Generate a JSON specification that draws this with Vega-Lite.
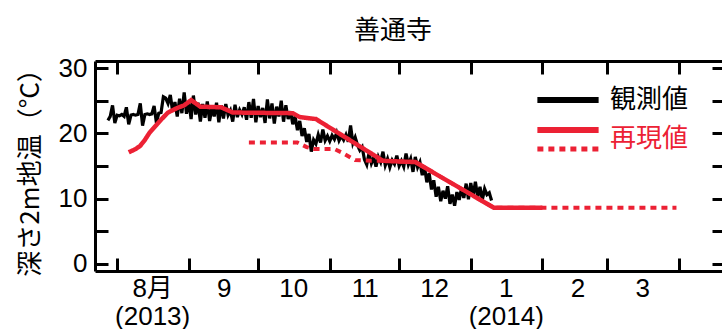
{
  "$schema": "https://vega.github.io/schema/vega-lite/v6.json",
  "autosize": {"type": "none"},
  "padding": {"left": 95, "top": 61, "right": 0, "bottom": 58},
  "width": 630,
  "height": 210,
  "background": "white",
  "title": {"text": "善通寺", "font": "Noto Sans CJK JP", "fontSize": 26, "fontWeight": "normal", "color": "black", "dx": -17, "offset": 11},
  "config": {
    "view": {"stroke": null},
    "axis": {"grid": false, "domainColor": "black", "domainWidth": 3, "tickColor": "black", "tickWidth": 3, "tickSize": -13, "labelFont": "Liberation Sans", "labelFontSize": 26, "labelColor": "black", "labelOverlap": false, "labelFlush": false, "labelBound": false}
  },
  "datasets": {
    "obs": [
      {"d":"2013-07-28","t":22.0},{"d":"2013-07-29","t":22.6},{"d":"2013-07-30","t":24.3},{"d":"2013-07-31","t":21.6},
      {"d":"2013-08-01","t":22.8},{"d":"2013-08-02","t":22.7},{"d":"2013-08-03","t":22.9},{"d":"2013-08-04","t":22.6},{"d":"2013-08-05","t":24.0},{"d":"2013-08-06","t":21.4},{"d":"2013-08-07","t":22.8},{"d":"2013-08-08","t":22.9},{"d":"2013-08-09","t":22.8},{"d":"2013-08-10","t":22.9},{"d":"2013-08-11","t":24.6},{"d":"2013-08-12","t":21.2},{"d":"2013-08-13","t":22.9},{"d":"2013-08-14","t":23.0},{"d":"2013-08-15","t":22.9},{"d":"2013-08-16","t":23.0},{"d":"2013-08-17","t":24.2},{"d":"2013-08-18","t":21.6},{"d":"2013-08-19","t":23.1},{"d":"2013-08-20","t":23.2},{"d":"2013-08-21","t":25.6},{"d":"2013-08-22","t":25.4},{"d":"2013-08-23","t":24.6},{"d":"2013-08-24","t":25.9},{"d":"2013-08-25","t":23.4},{"d":"2013-08-26","t":24.8},{"d":"2013-08-27","t":22.6},{"d":"2013-08-28","t":25.3},{"d":"2013-08-29","t":23.1},{"d":"2013-08-30","t":26.3},{"d":"2013-08-31","t":23.0},
      {"d":"2013-09-01","t":24.9},{"d":"2013-09-02","t":22.2},{"d":"2013-09-03","t":25.8},{"d":"2013-09-04","t":22.9},{"d":"2013-09-05","t":24.7},{"d":"2013-09-06","t":21.8},{"d":"2013-09-07","t":24.5},{"d":"2013-09-08","t":22.4},{"d":"2013-09-09","t":24.9},{"d":"2013-09-10","t":21.9},{"d":"2013-09-11","t":23.9},{"d":"2013-09-12","t":22.6},{"d":"2013-09-13","t":24.7},{"d":"2013-09-14","t":21.7},{"d":"2013-09-15","t":24.3},{"d":"2013-09-16","t":22.3},{"d":"2013-09-17","t":24.5},{"d":"2013-09-18","t":22.8},{"d":"2013-09-19","t":23.5},{"d":"2013-09-20","t":21.8},{"d":"2013-09-21","t":24.4},{"d":"2013-09-22","t":22.5},{"d":"2013-09-23","t":23.6},{"d":"2013-09-24","t":22.9},{"d":"2013-09-25","t":24.0},{"d":"2013-09-26","t":22.1},{"d":"2013-09-27","t":24.8},{"d":"2013-09-28","t":22.4},{"d":"2013-09-29","t":25.3},{"d":"2013-09-30","t":21.7},
      {"d":"2013-10-01","t":24.2},{"d":"2013-10-02","t":22.5},{"d":"2013-10-03","t":23.9},{"d":"2013-10-04","t":21.6},{"d":"2013-10-05","t":25.2},{"d":"2013-10-06","t":22.3},{"d":"2013-10-07","t":24.6},{"d":"2013-10-08","t":21.5},{"d":"2013-10-09","t":24.1},{"d":"2013-10-10","t":22.6},{"d":"2013-10-11","t":25.0},{"d":"2013-10-12","t":21.8},{"d":"2013-10-13","t":24.3},{"d":"2013-10-14","t":22.2},{"d":"2013-10-15","t":23.4},{"d":"2013-10-16","t":21.4},{"d":"2013-10-17","t":22.6},{"d":"2013-10-18","t":20.5},{"d":"2013-10-19","t":21.9},{"d":"2013-10-20","t":19.6},{"d":"2013-10-21","t":20.8},{"d":"2013-10-22","t":18.7},{"d":"2013-10-23","t":19.9},{"d":"2013-10-24","t":17.2},{"d":"2013-10-25","t":19.0},{"d":"2013-10-26","t":18.4},{"d":"2013-10-27","t":19.8},{"d":"2013-10-28","t":18.6},{"d":"2013-10-29","t":20.6},{"d":"2013-10-30","t":18.9},{"d":"2013-10-31","t":19.6},
      {"d":"2013-11-01","t":18.8},{"d":"2013-11-02","t":19.7},{"d":"2013-11-03","t":19.1},{"d":"2013-11-04","t":20.1},{"d":"2013-11-05","t":18.9},{"d":"2013-11-06","t":19.6},{"d":"2013-11-07","t":19.0},{"d":"2013-11-08","t":19.8},{"d":"2013-11-09","t":18.7},{"d":"2013-11-10","t":21.2},{"d":"2013-11-11","t":18.5},{"d":"2013-11-12","t":19.4},{"d":"2013-11-13","t":18.2},{"d":"2013-11-14","t":17.4},{"d":"2013-11-15","t":17.9},{"d":"2013-11-16","t":16.0},{"d":"2013-11-17","t":15.2},{"d":"2013-11-18","t":17.0},{"d":"2013-11-19","t":15.4},{"d":"2013-11-20","t":16.3},{"d":"2013-11-21","t":14.9},{"d":"2013-11-22","t":16.4},{"d":"2013-11-23","t":15.6},{"d":"2013-11-24","t":17.2},{"d":"2013-11-25","t":15.1},{"d":"2013-11-26","t":16.1},{"d":"2013-11-27","t":14.8},{"d":"2013-11-28","t":15.9},{"d":"2013-11-29","t":15.3},{"d":"2013-11-30","t":16.6},
      {"d":"2013-12-01","t":15.0},{"d":"2013-12-02","t":15.8},{"d":"2013-12-03","t":14.9},{"d":"2013-12-04","t":16.9},{"d":"2013-12-05","t":15.2},{"d":"2013-12-06","t":16.1},{"d":"2013-12-07","t":14.1},{"d":"2013-12-08","t":16.4},{"d":"2013-12-09","t":14.8},{"d":"2013-12-10","t":15.6},{"d":"2013-12-11","t":13.6},{"d":"2013-12-12","t":14.8},{"d":"2013-12-13","t":12.5},{"d":"2013-12-14","t":13.9},{"d":"2013-12-15","t":11.4},{"d":"2013-12-16","t":12.8},{"d":"2013-12-17","t":10.3},{"d":"2013-12-18","t":11.8},{"d":"2013-12-19","t":9.6},{"d":"2013-12-20","t":11.2},{"d":"2013-12-21","t":10.0},{"d":"2013-12-22","t":11.9},{"d":"2013-12-23","t":9.2},{"d":"2013-12-24","t":10.6},{"d":"2013-12-25","t":8.9},{"d":"2013-12-26","t":11.0},{"d":"2013-12-27","t":9.8},{"d":"2013-12-28","t":11.6},{"d":"2013-12-29","t":10.1},{"d":"2013-12-30","t":12.3},{"d":"2013-12-31","t":9.9},
      {"d":"2014-01-01","t":12.4},{"d":"2014-01-02","t":10.4},{"d":"2014-01-03","t":12.6},{"d":"2014-01-04","t":10.2},{"d":"2014-01-05","t":11.8},{"d":"2014-01-06","t":9.8},{"d":"2014-01-07","t":11.5},{"d":"2014-01-08","t":10.6},{"d":"2014-01-09","t":10.9},{"d":"2014-01-10","t":9.7}
    ],
    "sim": [
      {"d":"2013-08-06","t":17.1},{"d":"2013-08-09","t":17.6},{"d":"2013-08-11","t":18.1},{"d":"2013-08-13","t":19.0},{"d":"2013-08-15","t":20.1},{"d":"2013-08-18","t":21.3},{"d":"2013-08-20","t":22.1},{"d":"2013-08-23","t":23.2},{"d":"2013-08-27","t":23.9},{"d":"2013-08-30","t":24.3},{"d":"2013-09-02","t":25.1},{"d":"2013-09-06","t":24.1},{"d":"2013-09-15","t":24.0},{"d":"2013-09-20","t":23.2},{"d":"2013-10-16","t":23.1},{"d":"2013-10-19","t":22.5},{"d":"2013-10-26","t":22.2},{"d":"2013-11-24","t":15.8},{"d":"2013-12-08","t":15.6},{"d":"2014-01-11","t":8.6},{"d":"2014-02-01","t":8.6}
    ],
    "sim2": [
      {"d":"2013-09-27","t":18.6},{"d":"2013-10-18","t":18.6},{"d":"2013-10-22","t":17.9},{"d":"2013-10-25","t":17.6},{"d":"2013-11-03","t":17.6},{"d":"2013-11-06","t":17.1},{"d":"2013-11-12","t":15.9},{"d":"2013-11-19","t":15.8},{"d":"2013-11-24","t":15.8},{"d":"2013-12-08","t":15.6},{"d":"2014-01-11","t":8.6},{"d":"2014-03-31","t":8.6}
    ]
  },
  "resolve": {"axis": {"x": "independent", "y": "independent"}},
  "layer": [
    {
      "data": {"name": "obs"},
      "transform": [{"calculate": "'観測値'", "as": "s"}, {"calculate": "'solid'", "as": "k"}],
      "mark": {"type": "line", "strokeWidth": 3.2},
      "encoding": {
        "x": {"field": "d", "type": "temporal", "scale": {"type": "utc", "domain": [{"year": 2013, "month": 7, "date": 22, "hours": 10, "utc": true}, {"year": 2014, "month": 4, "date": 21, "utc": true}]},
          "axis": {"orient": "bottom", "title": null, "values": [{"year":2013,"month":8,"date":1,"utc":true},{"year":2013,"month":9,"date":1,"utc":true},{"year":2013,"month":10,"date":1,"utc":true},{"year":2013,"month":11,"date":1,"utc":true},{"year":2013,"month":12,"date":1,"utc":true},{"year":2014,"month":1,"date":1,"utc":true},{"year":2014,"month":2,"date":1,"utc":true},{"year":2014,"month":3,"date":1,"utc":true},{"year":2014,"month":4,"date":1,"utc":true}],
            "labelExpr": "utcmonth(datum.value) == 7 ? ['8月', '(2013)'] : utcmonth(datum.value) == 0 ? ['1', '(2014)'] : utcmonth(datum.value) == 3 ? '' : '' + (utcmonth(datum.value) + 1)",
            "labelOffset": 35, "labelPadding": 17, "labelLineHeight": 28, "labelFont": "Liberation Sans, Noto Sans CJK JP"}},
        "y": {"field": "t", "type": "quantitative", "scale": {"domain": [-1.1, 31.1], "nice": false, "zero": false},
          "axis": {"orient": "left", "values": [0, 5, 10, 15, 20, 25, 30], "labelExpr": "datum.value % 10 == 0 ? datum.label : ''", "labelPadding": 21,
            "title": "深さ2m地温（°C）", "titleFont": "Noto Sans CJK JP", "titleFontSize": 26, "titleFontWeight": "normal", "titleColor": "black", "titlePadding": 15}},
        "color": {"field": "s", "type": "nominal", "scale": {"domain": ["観測値", "再現値"], "range": ["black", "#ec2134"]},
          "legend": {"orient": "none", "legendX": 460, "legendY": 26, "title": null, "symbolType": "M-5,0H5", "symbolSize": 150, "symbolStrokeWidth": 6, "labelFont": "Noto Sans CJK JP", "labelFontSize": 26, "labelOffset": 29, "rowPadding": 4,
            "encode": {"labels": {"update": {"fill": {"signal": "datum.value == '観測値' ? 'black' : '#ec2134'"}, "dy": {"signal": "datum.value == '再現値' ? 9 : 0"}}}}}},
        "strokeDash": {"field": "k", "type": "nominal", "scale": {"domain": ["solid", "dotted"], "range": [[1, 0], [6, 5]]},
          "legend": {"orient": "none", "legendX": 460, "legendY": 75, "title": null, "values": ["dotted"], "labelExpr": "''", "symbolType": "M-5,0H5", "symbolSize": 150, "symbolStrokeWidth": 5, "symbolStrokeColor": "#ec2134", "labelFontSize": 26}}
      }
    },
    {
      "data": {"name": "sim2"},
      "transform": [{"calculate": "'再現値'", "as": "s"}, {"calculate": "'dotted'", "as": "k"}],
      "mark": {"type": "line", "strokeWidth": 4},
      "encoding": {
        "x": {"field": "d", "type": "temporal", "axis": {"orient": "top", "title": null, "labels": false, "values": [{"year":2013,"month":8,"date":1,"utc":true},{"year":2013,"month":9,"date":1,"utc":true},{"year":2013,"month":10,"date":1,"utc":true},{"year":2013,"month":11,"date":1,"utc":true},{"year":2013,"month":12,"date":1,"utc":true},{"year":2014,"month":1,"date":1,"utc":true},{"year":2014,"month":2,"date":1,"utc":true},{"year":2014,"month":3,"date":1,"utc":true},{"year":2014,"month":4,"date":1,"utc":true}]}},
        "y": {"field": "t", "type": "quantitative", "axis": {"orient": "right", "title": null, "labels": false, "values": [0, 5, 10, 15, 20, 25, 30]}},
        "color": {"field": "s", "type": "nominal"},
        "strokeDash": {"field": "k", "type": "nominal"}
      }
    },
    {
      "data": {"name": "sim"},
      "transform": [{"calculate": "'再現値'", "as": "s"}, {"calculate": "'solid'", "as": "k"}],
      "mark": {"type": "line", "strokeWidth": 4.5},
      "encoding": {
        "x": {"field": "d", "type": "temporal", "axis": null},
        "y": {"field": "t", "type": "quantitative", "axis": null},
        "color": {"field": "s", "type": "nominal"},
        "strokeDash": {"field": "k", "type": "nominal"}
      }
    }
  ]
}
